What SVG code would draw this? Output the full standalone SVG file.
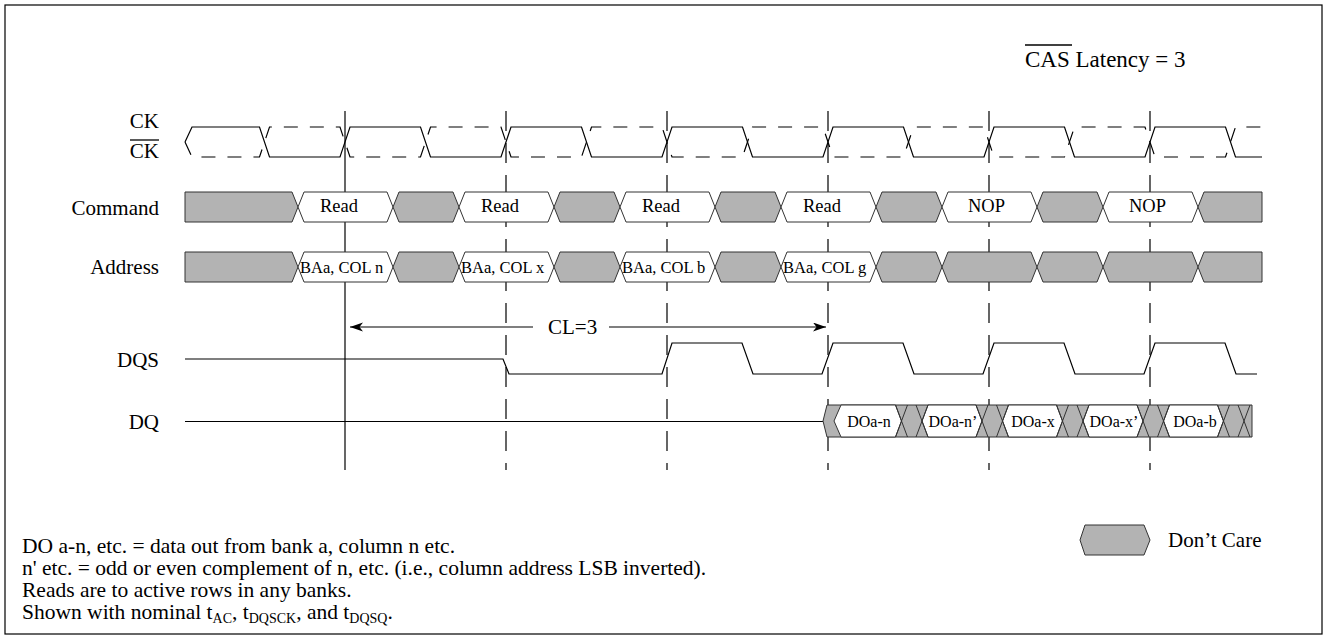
<svg xmlns="http://www.w3.org/2000/svg" width="1330" height="639" viewBox="0 0 1330 639">
<style>
text{font-family:"Liberation Serif","Times New Roman",serif;fill:#000}
.lbl{font-size:21px;text-anchor:end}
.cmd{font-size:18.5px}
.adr{font-size:16.5px}
.dq{font-size:16px;text-anchor:middle}
.note{font-size:21.5px}
.g{fill:#b3b3b3;stroke:#333;stroke-width:1}
.w{fill:#fff;stroke:#333;stroke-width:1}
.wave{fill:none;stroke:#000;stroke-width:1.2}
.vs{stroke:#000;stroke-width:1.2}
.vd{stroke:#000;stroke-width:1.2;stroke-dasharray:20,12}
</style>
<defs>
<marker id="ah" markerUnits="userSpaceOnUse" markerWidth="14" markerHeight="10" refX="13" refY="4.5" orient="auto-start-reverse">
<path d="M0,0 L13,4.5 L0,9 L3.5,4.5 Z" fill="#000"/>
</marker>
</defs>
<rect x="5" y="5" width="1317" height="629" fill="#fff" stroke="#000" stroke-width="1.2"/>

<g id="cas-latency">
<text x="1025" y="67" style="font-size:23px">CAS Latency = 3</text>
<line x1="1025" y1="45" x2="1072" y2="45" stroke="#000" stroke-width="1.5"/>
</g>

<g id="labels">
<text class="lbl" x="159" y="128">CK</text>
<text class="lbl" x="159" y="158">CK</text>
<line x1="130" y1="140" x2="159" y2="140" stroke="#000" stroke-width="1.3"/>
<text class="lbl" x="159" y="215">Command</text>
<text class="lbl" x="159" y="274">Address</text>
<text class="lbl" x="159" y="367">DQS</text>
<text class="lbl" x="159" y="429">DQ</text>
</g>

<g id="gridlines">
<line class="vs" x1="345" y1="111" x2="345" y2="470"/>
<line class="vd" x1="506" y1="111" x2="506" y2="470"/>
<line class="vd" x1="667" y1="111" x2="667" y2="470"/>
<line class="vd" x1="828" y1="111" x2="828" y2="470"/>
<line class="vd" x1="989" y1="111" x2="989" y2="470"/>
<line class="vd" x1="1150" y1="111" x2="1150" y2="470"/>
</g>

<g id="ck">
<path class="wave" d="M185,142 L192,127 H259.5 L269.5,157 H340 L350,127 H420.5 L430.5,157 H501 L511,127 H581.5 L591.5,157 H662 L672,127 H742.5 L752.5,157 H823 L833,127 H903.5 L913.5,157 H984 L994,127 H1064.5 L1074.5,157 H1145 L1155,127 H1225.5 L1235.5,157 H1262"/>
<path class="wave" stroke-dasharray="14,12" d="M185,142 L192,157 H259.5 L269.5,127 H340 L350,157 H420.5 L430.5,127 H501 L511,157 H581.5 L591.5,127 H662 L672,157 H742.5 L752.5,127 H823 L833,157 H903.5 L913.5,127 H984 L994,157 H1064.5 L1074.5,127 H1145 L1155,157 H1225.5 L1235.5,127 H1262"/>
</g>

<g id="command">
<polygon class="g" points="185,192 292,192 298,207 292,222 185,222"/>
<polygon class="w" points="298,207 304,192 387,192 393,207 387,222 304,222"/>
<polygon class="g" points="393,207 399,192 453,192 459,207 453,222 399,222"/>
<polygon class="w" points="459,207 465,192 548,192 554,207 548,222 465,222"/>
<polygon class="g" points="554,207 560,192 614,192 620,207 614,222 560,222"/>
<polygon class="w" points="620,207 626,192 709,192 715,207 709,222 626,222"/>
<polygon class="g" points="715,207 721,192 775,192 781,207 775,222 721,222"/>
<polygon class="w" points="781,207 787,192 870,192 876,207 870,222 787,222"/>
<polygon class="g" points="876,207 882,192 936,192 942,207 936,222 882,222"/>
<polygon class="w" points="942,207 948,192 1031,192 1037,207 1031,222 948,222"/>
<polygon class="g" points="1037,207 1043,192 1097,192 1103,207 1097,222 1043,222"/>
<polygon class="w" points="1103,207 1109,192 1192,192 1198,207 1192,222 1109,222"/>
<polygon class="g" points="1198,207 1204,192 1262,192 1262,222 1204,222"/>
<text class="cmd" x="320" y="212">Read</text>
<text class="cmd" x="481" y="212">Read</text>
<text class="cmd" x="642" y="212">Read</text>
<text class="cmd" x="803" y="212">Read</text>
<text class="cmd" x="968" y="212">NOP</text>
<text class="cmd" x="1129" y="212">NOP</text>
</g>

<g id="address">
<polygon class="g" points="185,252 292,252 298,267 292,282 185,282"/>
<polygon class="w" points="298,267 304,252 387,252 393,267 387,282 304,282"/>
<polygon class="g" points="393,267 399,252 453,252 459,267 453,282 399,282"/>
<polygon class="w" points="459,267 465,252 548,252 554,267 548,282 465,282"/>
<polygon class="g" points="554,267 560,252 614,252 620,267 614,282 560,282"/>
<polygon class="w" points="620,267 626,252 709,252 715,267 709,282 626,282"/>
<polygon class="g" points="715,267 721,252 775,252 781,267 775,282 721,282"/>
<polygon class="w" points="781,267 787,252 870,252 876,267 870,282 787,282"/>
<polygon class="g" points="876,267 882,252 936,252 942,267 936,282 882,282"/>
<polygon class="g" points="942,267 948,252 1031,252 1037,267 1031,282 948,282"/>
<polygon class="g" points="1037,267 1043,252 1097,252 1103,267 1097,282 1043,282"/>
<polygon class="g" points="1103,267 1109,252 1192,252 1198,267 1192,282 1109,282"/>
<polygon class="g" points="1198,267 1204,252 1262,252 1262,282 1204,282"/>
<text class="adr" x="300" y="273">BAa, COL n</text>
<text class="adr" x="461" y="273">BAa, COL x</text>
<text class="adr" x="622" y="273">BAa, COL b</text>
<text class="adr" x="783" y="273">BAa, COL g</text>
</g>

<g id="cl-arrow">
<line x1="350" y1="327" x2="533" y2="327" stroke="#000" stroke-width="1.2" marker-start="url(#ah)"/>
<line x1="609" y1="327" x2="826" y2="327" stroke="#000" stroke-width="1.2" marker-end="url(#ah)"/>
<text x="548" y="334" style="font-size:21px">CL=3</text>
</g>

<g id="dqs">
<path class="wave" d="M185,359 H503 L509,374 H662 L672,343 H742 L753,374 H822 L833,343 H903 L914,374 H983 L994,343 H1064 L1075,374 H1144 L1155,343 H1225 L1236,374 H1257"/>
</g>

<g id="dq">
<path class="wave" d="M185,421.5 H823"/>
<polygon class="g" points="823,421 827,405 1252,405 1252,437 827,437"/>
<polygon class="w" points="834,421 841,405 895.5,405 901.5,421 895.5,437 841,437"/>
<polygon class="w" points="922,421 928,405 976,405 982,421 976,437 928,437"/>
<polygon class="w" points="1002.5,421 1008.5,405 1056.5,405 1062.5,421 1056.5,437 1008.5,437"/>
<polygon class="w" points="1083,421 1089,405 1137,405 1143,421 1137,437 1089,437"/>
<polygon class="w" points="1163.5,421 1169.5,405 1217.5,405 1223.5,421 1217.5,437 1169.5,437"/>
<path fill="none" stroke="#333" stroke-width="1" d="M895.5,405 L907.5,437 M895.5,437 L907.5,405 M916,405 L928,437 M916,437 L928,405 M976,405 L988,437 M976,437 L988,405 M996.5,405 L1008.5,437 M996.5,437 L1008.5,405 M1056.5,405 L1068.5,437 M1056.5,437 L1068.5,405 M1077,405 L1089,437 M1077,437 L1089,405 M1137,405 L1149,437 M1137,437 L1149,405 M1157.5,405 L1169.5,437 M1157.5,437 L1169.5,405 M1217.5,405 L1229.5,437 M1217.5,437 L1229.5,405 M1238,405 L1250,437 M1238,437 L1250,405"/>
<text class="dq" x="869" y="427">DOa-n</text>
<text class="dq" x="953" y="427">DOa-n’</text>
<text class="dq" x="1033" y="427">DOa-x</text>
<text class="dq" x="1114" y="427">DOa-x’</text>
<text class="dq" x="1195" y="427">DOa-b</text>
</g>

<g id="legend">
<polygon class="g" points="1080,540 1085,525 1144,525 1150,540 1144,555 1085,555"/>
<text x="1168" y="547" style="font-size:21px">Don’t Care</text>
</g>

<g id="notes">
<text class="note" x="22" y="553">DO a-n, etc. = data out from bank a, column n etc.</text>
<text class="note" x="22" y="575">n' etc. = odd or even complement of n, etc. (i.e., column address LSB inverted).</text>
<text class="note" x="22" y="597">Reads are to active rows in any banks.</text>
<text class="note" x="22" y="619">Shown with nominal t<tspan font-size="14" dy="4">AC</tspan><tspan dy="-4">, t</tspan><tspan font-size="14" dy="4">DQSCK</tspan><tspan dy="-4">, and t</tspan><tspan font-size="14" dy="4">DQSQ</tspan><tspan dy="-4">.</tspan></text>
</g>
</svg>
